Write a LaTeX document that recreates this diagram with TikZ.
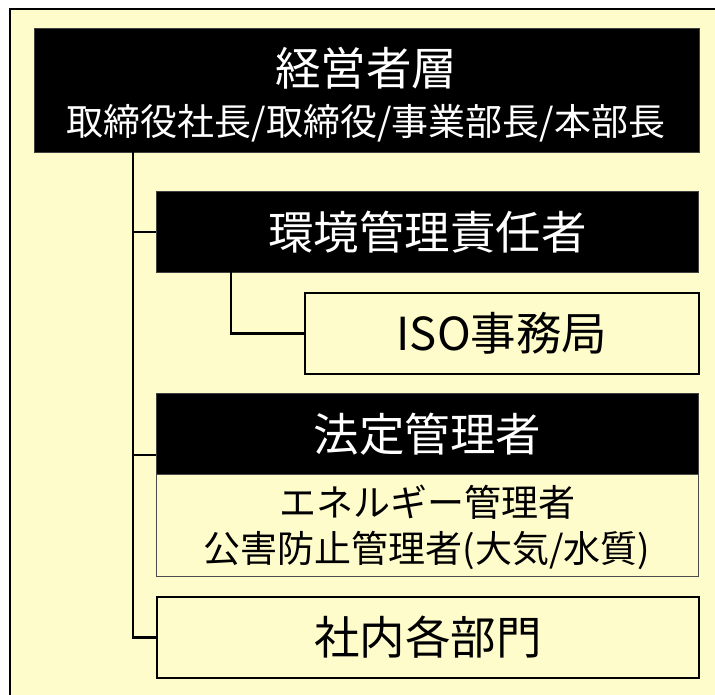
\documentclass[tikz,border=0pt]{standalone}
\usepackage{fontspec}
\setmainfont{Noto Sans CJK JP}
\definecolor{bgyellow}{HTML}{FFFCCC}
\begin{document}
\begin{tikzpicture}[x=1pt,y=-1pt,
  blackbox/.style={fill=black, draw=black!75, line width=0.8pt, inner sep=0pt, anchor=north west, text=white},
  yellowbox/.style={fill=bgyellow, draw=black, line width=2pt, inner sep=0pt, anchor=north west},
  subbox/.style={fill=bgyellow, draw=black!70, line width=0.9pt, inner sep=0pt, anchor=north west},
  bigtxt/.style={font=\fontsize{45.5}{48}\selectfont},
  midtxt/.style={font=\fontsize{37}{40}\selectfont},
  conn/.style={draw=black, line width=2.2pt}]
\useasboundingbox (0,0) rectangle (715,694);
\clip (0,0) rectangle (715,694);
\fill[white] (0,0) rectangle (715,694);
\draw[line width=2pt, fill=bgyellow] (10,9) rectangle (740,720);

% boxes
\node[blackbox, minimum width=665pt, minimum height=124pt] (top) at (34,28) {};
\node[bigtxt, text=white, inner sep=0pt] (toptitle) at (366,68.5) {経営者層};
\node[midtxt, text=white, inner sep=0pt] (topsub) at (366,123) {取締役社長/取締役/事業部長/本部長};

\node[blackbox, bigtxt, minimum width=542pt, minimum height=81pt] (env) at (156,191) {環境管理責任者};
\node[yellowbox, bigtxt, minimum width=394pt, minimum height=81pt] (iso) at (304,292) {ISO事務局};

\node[blackbox, bigtxt, minimum width=542pt, minimum height=81pt] (legal) at (156,393) {法定管理者};
\node[subbox, minimum width=542pt, minimum height=102pt] (legalsub) at (156,474) {};
\node[midtxt, inner sep=0pt] (energy) at (427,502) {エネルギー管理者};
\node[midtxt, inner sep=0pt] (pollution) at (427,550) {公害防止管理者(大気/水質)};

\node[yellowbox, bigtxt, minimum width=542pt, minimum height=81pt] (dept) at (156,596) {社内各部門};

% connectors
\coordinate (trunk) at (133,152);
\coordinate (legaljoin) at (156,455);
\coordinate (envdrop) at (231,272);
\draw[conn] (trunk) |- (env.west);
\draw[conn] (trunk) |- (legaljoin);
\draw[conn] (trunk) |- (dept.west);
\draw[conn] (envdrop) |- (iso.west);
\end{tikzpicture}
\end{document}
